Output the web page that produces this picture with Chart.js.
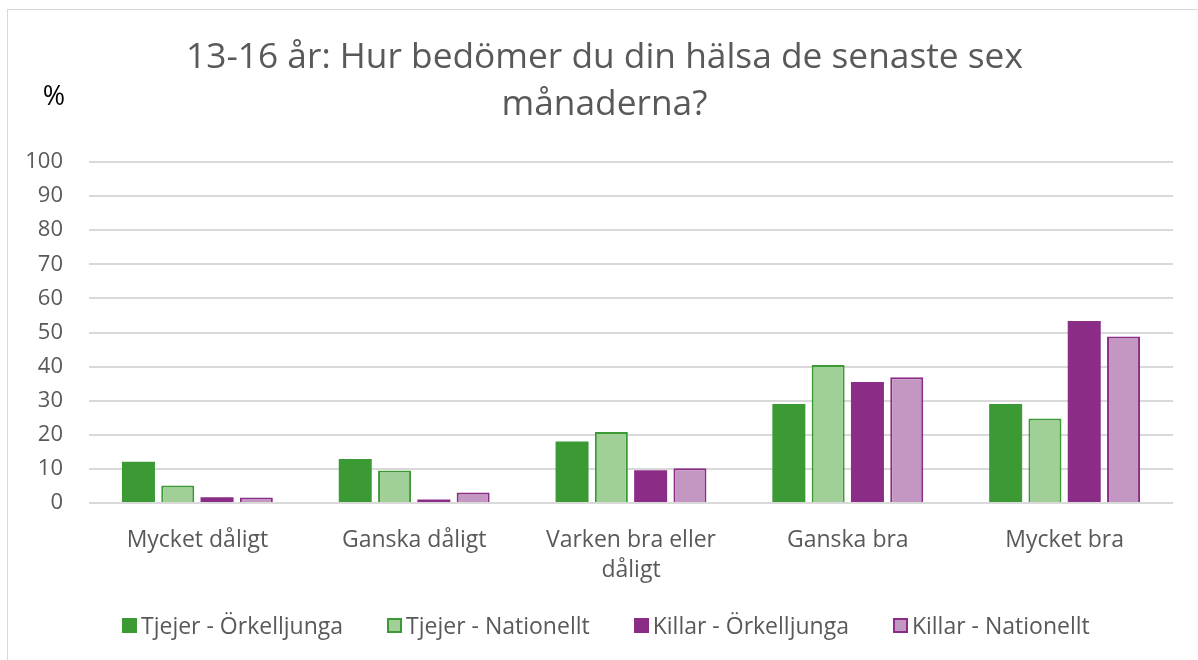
<!DOCTYPE html>
<html><head><meta charset="utf-8">
<script src="https://cdn.jsdelivr.net/npm/chart.js@4"></script>
<style>
html,body{margin:0;padding:0;background:#fff;overflow:hidden;}
#wrap{position:absolute;left:7px;top:9px;width:1191px;height:651px;border-left:1px solid #d9d9d9;border-top:1px solid #d9d9d9;box-sizing:border-box;}
canvas{display:block;}
#legend{position:absolute;left:114px;top:599px;display:flex;gap:44px;font-family:'Open Sans','Noto Sans',sans-serif;font-size:23px;color:#595959;white-space:nowrap;}
#legend .item{display:flex;align-items:center;}
#legend .box{width:15px;height:15px;box-sizing:border-box;margin-right:4px;}
</style></head>
<body>
<div id="wrap"><canvas id="c" width="1190" height="650"></canvas><div id="legend"></div></div>
<script>
const categories = ["Mycket dåligt", "Ganska dåligt", ["Varken bra eller", "dåligt"], "Ganska bra", "Mycket bra"];
const tjejerOrkelljunga = [12.1, 12.9, 18.0, 29.0, 29.0];
const tjejerNationellt = [5.1, 9.5, 20.8, 40.5, 24.8];
const killarOrkelljunga = [1.7, 1.0, 9.6, 35.5, 53.4];
const killarNationellt = [1.6, 3.1, 10.2, 36.9, 48.8];
const titleLines = ["13-16 år: Hur bedömer du din hälsa de senaste sex", "månaderna?"];
const yUnit = "%";

const FONT = "'Open Sans', 'Noto Sans', sans-serif";
const GRAY = "#595959";

const textPlugin = {
  id: 'textLabels',
  afterDraw(chart) {
    const ctx = chart.ctx;
    ctx.save();
    ctx.textAlign = "center";
    ctx.textBaseline = "middle";
    ctx.font = "35.3px " + FONT;
    ctx.fillStyle = GRAY;
    ctx.fillText(titleLines[0], 596.5, 48);
    ctx.fillText(titleLines[1], 596.5, 95);
    ctx.font = "27px " + FONT;
    ctx.fillStyle = "#000";
    ctx.fillText(yUnit, 46, 87);
    ctx.restore();
  }
};

const htmlLegendPlugin = {
  id: 'htmlLegend',
  afterUpdate(chart) {
    const el = document.getElementById('legend');
    el.innerHTML = '';
    chart.data.datasets.forEach(ds => {
      const item = document.createElement('div');
      item.className = 'item';
      const box = document.createElement('span');
      box.className = 'box';
      box.style.background = ds.backgroundColor;
      if (ds.borderWidth) box.style.border = ds.borderWidth + 'px solid ' + ds.borderColor;
      const txt = document.createElement('span');
      txt.textContent = ds.label;
      item.appendChild(box);
      item.appendChild(txt);
      el.appendChild(item);
    });
  }
};

new Chart(document.getElementById('c'), {
  type: 'bar',
  data: {
    labels: categories,
    datasets: [
      {label: "Tjejer - Örkelljunga", data: tjejerOrkelljunga, backgroundColor: "#3c9a35", borderColor: "#3c9a35", borderWidth: 0},
      {label: "Tjejer - Nationellt", data: tjejerNationellt, backgroundColor: "#a0cf98", borderColor: "#3c9a35", borderWidth: 2},
      {label: "Killar - Örkelljunga", data: killarOrkelljunga, backgroundColor: "#8b2c87", borderColor: "#8b2c87", borderWidth: 0},
      {label: "Killar - Nationellt", data: killarNationellt, backgroundColor: "#c497c3", borderColor: "#8b2c87", borderWidth: 2}
    ]
  },
  plugins: [textPlugin, htmlLegendPlugin],
  options: {
    responsive: false,
    animation: false,
    devicePixelRatio: 1,
    categoryPercentage: 0.725,
    barPercentage: 0.84,
    layout: {padding: {left: 0, right: 25, top: 152, bottom: 57}},
    plugins: {
      title: {display: false},
      legend: {display: false},
      tooltip: {enabled: false}
    },
    scales: {
      x: {
        grid: {display: false},
        border: {display: false},
        ticks: {color: GRAY, font: {family: FONT, size: 23, lineHeight: 1.3}, maxRotation: 0, padding: 15},
        afterFit(scale) { scale.height = 100; }
      },
      y: {
        min: 0, max: 100,
        ticks: {stepSize: 10, color: GRAY, font: {family: FONT, size: 22}, padding: 26},
        grid: {color: "#d9d9d9", lineWidth: 2, drawTicks: false},
        border: {display: false},
        afterFit(scale) { scale.width = 81; }
      }
    }
  }
});
</script>
</body></html>
